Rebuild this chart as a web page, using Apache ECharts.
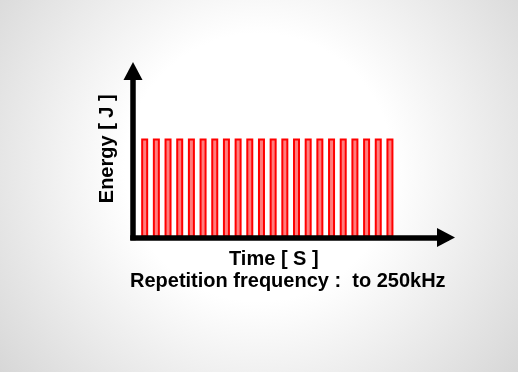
<!DOCTYPE html>
<html>
<head>
<meta charset="utf-8">
<style>
html,body{margin:0;padding:0;background:#fff;}
#chart{width:518px;height:372px;}
</style>
<script src="https://cdn.jsdelivr.net/npm/echarts@6/dist/echarts.min.js"></script>
</head>
<body>
<div id="chart"></div>
<script>
// Pulse index (time slots) and pulse energies
var pulseIndex = [1,2,3,4,5,6,7,8,9,10,11,12,13,14,15,16,17,18,19,20,21,22];
var pulseEnergy = [5.95,5.95,5.95,5.95,5.95,5.95,5.95,5.95,5.95,5.95,5.95,5.95,5.95,5.95,5.95,5.95,5.95,5.95,5.95,5.95,5.95,5.95];
var yAxisName = 'Energy [ J ]';
var xAxisName = 'Time [ S ]';
var noteText = 'Repetition frequency :  to 250kHz';

var chart = echarts.init(document.getElementById('chart'), null, {renderer:'canvas'});
var font = "'Liberation Sans', Arial, sans-serif";
var axisLine = {
  show: true,
  symbol: ['none', 'triangle'],
  symbolSize: [19, 18],
  lineStyle: {color: '#000', width: 5.5, cap: 'square'}
};
chart.setOption({
  animation: false,
  backgroundColor: {
    type: 'radial', x: 0.5, y: 0.45, r: 0.9,
    colorStops: [
      {offset: 0, color: '#ffffff'},
      {offset: 0.4, color: '#ffffff'},
      {offset: 1, color: '#d6d6d6'}
    ]
  },
  title: [
    {text: xAxisName, left: 229, top: 249,
     textStyle: {fontFamily: font, fontWeight: 'bold', fontSize: 20, color: '#000'}, padding: 0},
    {text: noteText, left: 130, top: 271,
     textStyle: {fontFamily: font, fontWeight: 'bold', fontSize: 20, color: '#000'}, padding: 0}
  ],
  grid: {left: 133, top: 71, width: 313, bottom: 134.5},
  xAxis: {
    type: 'value', min: 0, max: 26.8, z: 10,
    axisLine: axisLine,
    axisTick: {show: false}, axisLabel: {show: false}, splitLine: {show: false}
  },
  yAxis: {
    type: 'value', min: 0, max: 10, z: 10,
    name: yAxisName, nameLocation: 'middle', nameGap: 16,
    nameTextStyle: {fontFamily: font, fontWeight: 'bold', fontSize: 20, color: '#000', padding: [0,0,0,11]},
    axisLine: axisLine,
    axisTick: {show: false}, axisLabel: {show: false}, splitLine: {show: false}
  },
  series: [{
    type: 'bar',
    data: pulseIndex.map(function (t, i) { return [t, pulseEnergy[i]]; }),
    barWidth: 7,
    barMaxWidth: 20,
    itemStyle: {color: '#ff7d7d', opacity: 1, borderColor: '#ff0000', borderWidth: 2}
  }]
});
</script>
</body>
</html>
